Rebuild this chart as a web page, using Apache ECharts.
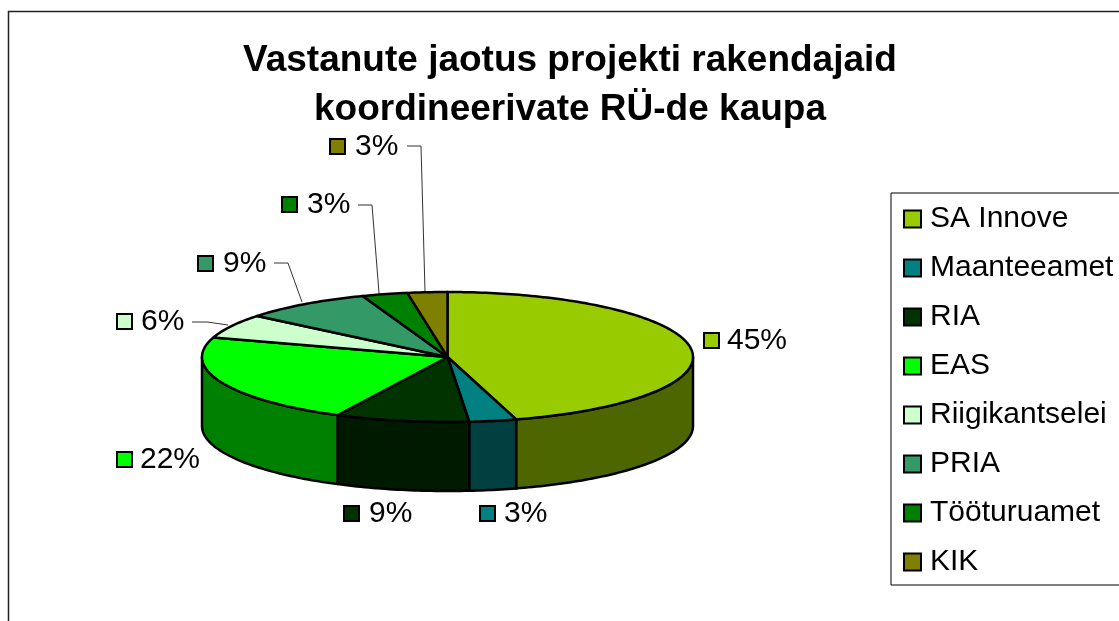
<!DOCTYPE html>
<html>
<head>
<meta charset="utf-8">
<style>html,body{margin:0;padding:0;background:#fff}#c{width:1119px;height:621px}</style>
<script src="https://cdn.jsdelivr.net/npm/echarts@6/dist/echarts.min.js"></script>
</head>
<body>
<div id="c"></div>
<script>
const titleText = 'Vastanute jaotus projekti rakendajaid\nkoordineerivate RÜ-de kaupa';
const categories = ['SA Innove','Maanteeamet','RIA','EAS','Riigikantselei','PRIA','Tööturuamet','KIK'];
const shares = [45.49,3.1,8.8,22.49,6.0,8.5,3.0,2.62];
const topColors = ['#99CC00','#008080','#003300','#00FF00','#CCFFCC','#339966','#008000','#808000'];
const wallColors = ['#4D6600','#004040','#001A00','#008000','#668066','#1A4D33','#004000','#404000'];

// Layout of the tilted pie and its manually placed labels
const cx = 447.5, cy = 357, rx = 245.5, ry = 65, depth = 69;
const labelPlaces = [
  {x:703,y:341,tx:727},
  {x:479,y:514,tx:504},
  {x:343,y:514,tx:369},
  {x:116,y:460,tx:140},
  {x:116,y:322,tx:141},
  {x:197,y:264,tx:223},
  {x:281,y:205,tx:307},
  {x:329,y:147,tx:355}
];
const leaders = [
  null,null,null,null,
  [[192,322],[207,322],[228,325]],
  [[274,263],[288,263],[302,302]],
  [[358,205],[372,205],[379,293]],
  [[407,146],[421,146],[425,291]]
];

const total = shares.reduce((a,b)=>a+b,0);
const pt = (deg,dy) => {
  const r = deg*Math.PI/180;
  return [cx+rx*Math.sin(r), cy-ry*Math.cos(r)+(dy||0)];
};
const arc = (a,b,dy) => {
  const n = Math.max(2,Math.ceil(Math.abs(b-a)));
  const out=[];
  for(let i=0;i<=n;i++) out.push(pt(a+(b-a)*i/n,dy));
  return out;
};
const FONT = '"Liberation Sans", Arial, sans-serif';

let acc = 0;
const series = categories.map((name,i)=>{
  const start = acc/total*360; acc += shares[i]; const end = acc/total*360;
  return {
    type:'custom', name, coordinateSystem:'none',
    itemStyle:{color:topColors[i]},
    data:[[shares[i]]],
    silent:true,
    renderItem:(params,api)=>{
      const children=[];
      const wa=Math.max(start,90), wb=Math.min(end,270);
      if(wb>wa){
        children.push({type:'polygon',shape:{points:arc(wa,wb,0).concat(arc(wb,wa,depth))},
          style:{fill:wallColors[i],stroke:'#000',lineWidth:2.5,lineJoin:'round'}});
      }
      children.push({type:'polygon',shape:{points:[[cx,cy]].concat(arc(start,end,0))},
        style:{fill:topColors[i],stroke:'#000',lineWidth:2.5,lineJoin:'round'}});
      if(leaders[i]) children.push({type:'polyline',shape:{points:leaders[i]},
        style:{fill:null,stroke:'#333',lineWidth:1}});
      const p=labelPlaces[i];
      children.push({type:'rect',shape:{x:p.x+1,y:p.y-8,width:15,height:15},
        style:{fill:topColors[i],stroke:'#000',lineWidth:2}});
      children.push({type:'text',style:{text:Math.round(api.value(0))+'%',x:p.tx,y:p.y,
        font:'30px '+FONT,fill:'#000',textAlign:'left',textVerticalAlign:'middle',verticalAlign:'middle'}});
      return {type:'group',children};
    }
  };
});

const chart = echarts.init(document.getElementById('c'),null,{renderer:'canvas'});
chart.setOption({
  animation:false,
  backgroundColor:'#fff',
  title:{text:titleText,left:565,top:31,textAlign:'center',
    textStyle:{fontFamily:FONT,fontWeight:'bold',fontSize:37,lineHeight:49,color:'#000'}},
  legend:{
    orient:'vertical',left:891,top:193,
    padding:[11,30,8,12],
    itemWidth:17,itemHeight:17,itemGap:19,
    borderColor:'#000',borderWidth:1,backgroundColor:'#fff',
    align:'left',selectedMode:false,
    textStyle:{fontFamily:FONT,fontSize:30,lineHeight:30,color:'#000',padding:[0,0,0,4]},
    data:categories.map((name,i)=>({name,icon:'rect',
      itemStyle:{color:topColors[i],borderColor:'#000',borderWidth:2}}))
  },
  graphic:[{type:'polyline',silent:true,z:-1,
    shape:{points:[[8.5,625],[8.5,11.5],[1125,11.5]]},
    style:{fill:null,stroke:'#222',lineWidth:1.5}}],
  series
});
</script>
</body>
</html>
